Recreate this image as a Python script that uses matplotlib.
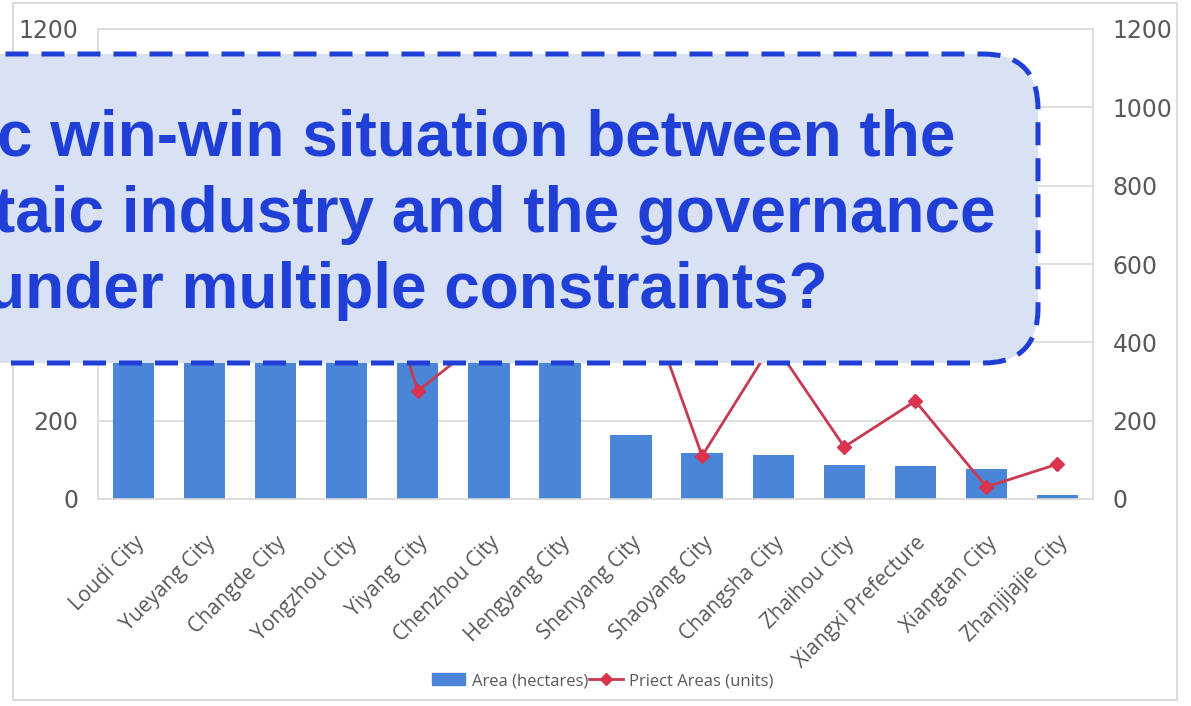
import matplotlib.pyplot as plt
from matplotlib.patches import FancyBboxPatch, Rectangle, Patch
from matplotlib.lines import Line2D
from matplotlib.transforms import IdentityTransform

cities = ['Loudi City', 'Yueyang City', 'Changde City', 'Yongzhou City', 'Yiyang City',
          'Chenzhou City', 'Hengyang City', 'Shenyang City', 'Shaoyang City', 'Changsha City',
          'Zhaihou City', 'Xiangxi Prefecture', 'Xiangtan City', 'Zhanjijajie City']
# bar tops above ~360 are hidden behind the callout box, so those are guesses
area = [1050, 780, 650, 560, 480, 430, 400, 163, 117, 112, 87, 84, 77, 10]
projects = [560, 720, 480, 850, 276, 419, 900, 618, 110, 400, 133, 250, 31, 89]

callout = ['c win-win situation between the',
           'taic industry and the governance',
           'under multiple constraints?']

W, H = 1191, 706
bar_c = '#4a85d7'
line_c = '#c83a52'
grey = '#595959'

fig = plt.figure(figsize=(W / 100, H / 100), dpi=100)
fig.patch.set_facecolor('white')

ax = fig.add_axes([98 / W, 1 - 499 / H, (1093 - 98) / W, (499 - 29) / H])
xx = list(range(len(cities)))
ax.bar(xx, area, width=0.58, color=bar_c, zorder=2)
ax.set_xlim(-0.5, len(cities) - 0.5)
ax.set_ylim(0, 1200)
ax.set_yticks(range(0, 1201, 200))
ax.grid(axis='y', color='#d9d9d9', lw=1.2, zorder=0)
ax.set_axisbelow(True)
ax.set_xticks(xx)
ax.set_xticklabels(cities, rotation=45, ha='right', rotation_mode='anchor',
                   fontsize=15, color=grey, family='Open Sans')
ax.tick_params(axis='both', length=0)
ax.tick_params(axis='x', pad=24)
ax.tick_params(axis='y', pad=14, labelsize=17, labelcolor=grey)
for s in ax.spines.values():
    s.set_color('#d9d9d9')
    s.set_linewidth(1.2)

ax2 = ax.twinx()
ax2.plot(xx, projects, color=line_c, lw=2, marker='D', ms=7, mfc='#d93350', mec='#d93350', zorder=3)
ax2.set_ylim(0, 1200)
ax2.set_yticks(range(0, 1201, 200))
ax2.tick_params(axis='y', length=0, pad=14, labelsize=17, labelcolor=grey)
for s in ax2.spines.values():
    s.set_visible(False)

handles = [Patch(color=bar_c), Line2D([], [], color=line_c, lw=2, marker='D', ms=6, mfc='#d93350', mec='#d93350')]
fig.legend(handles, ['Area (hectares)', 'Priect Areas (units)'], loc='center',
           bbox_to_anchor=(0.506, 1 - 681 / H), ncol=2, frameon=False,
           handlelength=2.0, handletextpad=0.4, columnspacing=0.1, labelcolor=grey,
           prop={'family': 'Open Sans', 'size': 12})

# light frame round the whole chart
fig.add_artist(Rectangle((13, H - 700), 1164, 697, transform=IdentityTransform(),
                         fill=False, edgecolor='#d4d4d4', lw=1.2, zorder=1))

# callout box laid over the chart
box = FancyBboxPatch((-80, H - 363), 1118, 309, boxstyle='round,pad=0,rounding_size=55',
                     transform=IdentityTransform(), facecolor='#d9e1f4', edgecolor='#1f3fd6',
                     lw=3.6, linestyle=(0, (4.6, 2.6)), zorder=10)
fig.add_artist(box)

xs = [-3, -6, -14]
ys = [155, 232, 308]
for t, x, y in zip(callout, xs, ys):
    fig.text(x, H - y, t, transform=IdentityTransform(), ha='left', va='baseline',
             fontsize=46, fontweight='bold', family='Liberation Sans', color='#1f3fd6', zorder=11)

fig.savefig('out.png', dpi=100)
